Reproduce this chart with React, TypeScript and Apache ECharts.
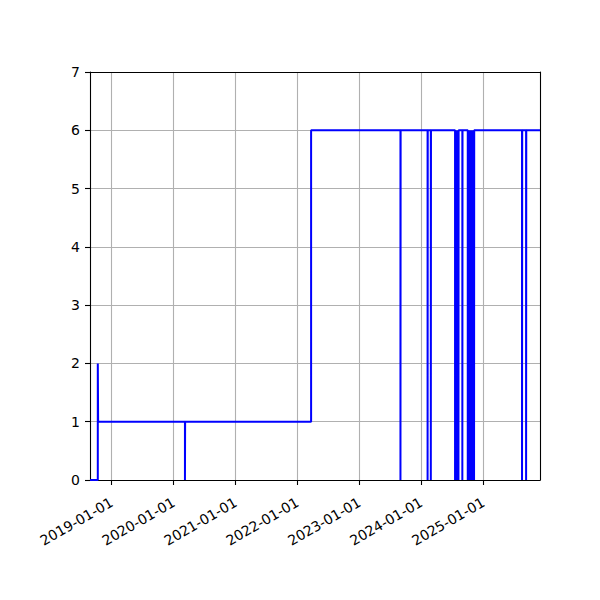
import React, { useEffect, useRef } from 'react';
import * as echarts from 'echarts';

const DAY = 24 * 3600 * 1000;

// visible date range
const xStart = '2018-08-26';
const xEnd = '2025-12-01';

// value changes before the long flat level
const levelDates = ['2018-08-26', '2018-10-11', '2018-10-13', '2020-03-08', '2020-03-09', '2022-03-22'];
const levelValues = [0, 2, 1, 0, 1, 6];

// one-day drops to zero while at the top level
const dropDates = [
    '2023-08-31',
    '2024-02-07', '2024-02-26',
    '2024-07-18', '2024-07-20', '2024-07-23', '2024-07-25', '2024-07-28', '2024-07-30', '2024-08-02', '2024-08-04', '2024-08-07',
    '2024-08-30',
    '2024-10-01', '2024-10-04', '2024-10-07', '2024-10-10', '2024-10-13', '2024-10-16', '2024-10-19',
    '2024-10-22', '2024-10-25', '2024-10-28', '2024-10-31', '2024-11-03', '2024-11-07',
    '2025-08-17', '2025-09-10',
];
const dropValue = 0;
const topValue = 6;

const yTicks = [0, 1, 2, 3, 4, 5, 6, 7];

const toTime = (s: string) => new Date(s + 'T00:00:00').getTime();

const App: React.FC = () => {
    const chartRef = useRef<HTMLDivElement>(null);

    useEffect(() => {
        if (!chartRef.current) return;
        const chart = echarts.init(chartRef.current, null, { renderer: 'svg' });

        const points: [number, number][] = levelDates.map((d, i) => [toTime(d), levelValues[i]]);
        dropDates.forEach((d) => {
            const t = toTime(d);
            points.push([t, dropValue]);
            points.push([t + DAY, topValue]);
        });
        points.push([toTime(xEnd), topValue]);

        const font = { fontFamily: 'DejaVu Sans', fontSize: 14, color: '#000' };
        const gridLine = { show: true, showMinLine: false, showMaxLine: false, lineStyle: { color: '#b0b0b0', width: 1.1 } };

        const option: echarts.EChartsOption = {
            animation: false,
            grid: { left: 90, right: 60, top: 72, bottom: 120, containLabel: false },
            xAxis: [
                {
                    type: 'time',
                    min: toTime(xStart),
                    max: toTime(xEnd),
                    minInterval: 365 * DAY,
                    maxInterval: 366 * DAY,
                    axisLine: { show: true, lineStyle: { color: '#000', width: 1.1 } },
                    axisTick: { show: true, length: 5, lineStyle: { color: '#000', width: 1.1 } },
                    axisLabel: {
                        ...font,
                        rotate: 30,
                        margin: 21,
                        showMinLabel: false,
                        showMaxLabel: false,
                        formatter: '{yyyy}-{MM}-{dd}',
                    },
                    splitLine: gridLine,
                },
                {
                    type: 'time',
                    position: 'top',
                    min: toTime(xStart),
                    max: toTime(xEnd),
                    axisLine: { show: true, onZero: false, lineStyle: { color: '#000', width: 1.1 } },
                    axisTick: { show: false },
                    axisLabel: { show: false },
                    splitLine: { show: false },
                },
            ],
            yAxis: [
                {
                    type: 'value',
                    min: yTicks[0],
                    max: yTicks[yTicks.length - 1],
                    interval: 1,
                    axisLine: { show: true, lineStyle: { color: '#000', width: 1.1 } },
                    axisTick: { show: true, length: 5, lineStyle: { color: '#000', width: 1.1 } },
                    axisLabel: { ...font, margin: 10 },
                    splitLine: gridLine,
                },
                {
                    type: 'value',
                    position: 'right',
                    min: yTicks[0],
                    max: yTicks[yTicks.length - 1],
                    axisLine: { show: true, onZero: false, lineStyle: { color: '#000', width: 1.1 } },
                    axisTick: { show: false },
                    axisLabel: { show: false },
                    splitLine: { show: false },
                },
            ],
            series: [
                {
                    type: 'line',
                    step: 'end',
                    data: points,
                    showSymbol: false,
                    lineStyle: { color: '#0000ff', width: 2 },
                    itemStyle: { color: '#0000ff' },
                    clip: true,
                },
            ],
        };

        chart.setOption(option);
        return () => chart.dispose();
    }, []);

    return <div ref={chartRef} style={{ position: 'absolute', left: 0, top: 0, width: 600, height: 600 }} />;
};

export default App;
